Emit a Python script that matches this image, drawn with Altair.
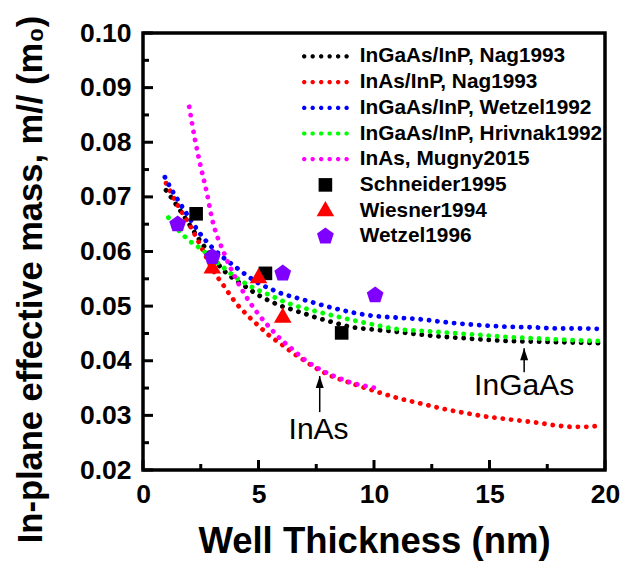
import altair as alt
import pandas as pd
import math

# ---------------- data ----------------
series_names = [
    "InGaAs/InP, Nag1993",
    "InAs/InP, Nag1993",
    "InGaAs/InP, Wetzel1992",
    "InGaAs/InP, Hrivnak1992",
    "InAs, Mugny2015",
    "Schneider1995",
    "Wiesner1994",
    "Wetzel1996",
]
series_colors = ["#000000", "#ff0000", "#0000ff", "#00ff00", "#ff00ff",
                 "#000000", "#ff0000", "#8000ff"]

x_black = [1.0, 1.5, 2.0, 2.5, 3.0, 3.5, 4.0, 4.5, 5.0, 5.5, 6.0, 6.5, 7.0, 7.5,
           8.0, 9.0, 10.0, 11.0, 12.0, 13.0, 14.0, 15.0, 16.0, 17.0, 18.0, 19.0, 20.0]
y_black = [0.0712, 0.0682, 0.0650, 0.0618, 0.0590, 0.0565, 0.0548, 0.0534, 0.0520,
           0.0509, 0.0500, 0.0493, 0.0486, 0.0479, 0.0473, 0.0462, 0.0457, 0.0453,
           0.0448, 0.0444, 0.0441, 0.0438, 0.0436, 0.0435, 0.0434, 0.0433, 0.0432]

x_red = [1.0, 1.5, 2.0, 2.5, 3.0, 3.5, 4.0, 4.5, 5.0, 5.5, 6.0, 6.5, 7.0, 7.5, 8.0,
         9.0, 10.0, 11.0, 12.0, 13.0, 14.0, 15.0, 16.0, 17.0, 18.0, 18.6, 19.2, 19.7]
y_red = [0.0725, 0.0685, 0.0650, 0.0610, 0.0568, 0.0537, 0.0507, 0.0484, 0.0464,
         0.0445, 0.0430, 0.0414, 0.0400, 0.0386, 0.0375, 0.0359, 0.0345, 0.0332,
         0.0322, 0.0312, 0.0304, 0.0297, 0.0292, 0.0287, 0.0281, 0.0279, 0.0279, 0.0281]

x_blue = [0.95, 1.2, 1.5, 2.0, 2.5, 3.0, 3.5, 4.0, 4.5, 5.0, 5.5, 6.0, 6.5, 7.0, 8.0,
          9.0, 10.0, 11.0, 12.0, 13.0, 14.0, 15.0, 16.0, 17.0, 18.0, 19.0, 20.0]
y_blue = [0.0736, 0.0716, 0.0695, 0.0662, 0.0631, 0.0607, 0.0588, 0.0572, 0.0556,
          0.0542, 0.0532, 0.0523, 0.0517, 0.0511, 0.0499, 0.0489, 0.0482, 0.0479,
          0.0476, 0.0471, 0.0467, 0.0464, 0.0462, 0.0461, 0.0459, 0.0459, 0.0458]

x_green = [1.1, 1.5, 2.0, 2.5, 3.0, 3.5, 4.0, 4.5, 5.0, 5.5, 6.0, 6.5, 7.0, 8.0, 9.0,
           10.0, 11.0, 12.0, 13.0, 14.0, 15.0, 16.0, 17.0, 18.0, 19.0, 20.0]
y_green = [0.0662, 0.0641, 0.0620, 0.0605, 0.0587, 0.0570, 0.0553, 0.0540, 0.0529,
           0.0520, 0.0510, 0.0502, 0.0496, 0.0485, 0.0475, 0.0466, 0.0458, 0.0455,
           0.0452, 0.0449, 0.0446, 0.0443, 0.0441, 0.0439, 0.0437, 0.0436]

x_magenta = [2.0, 2.25, 2.5, 2.75, 3.0, 3.5, 4.0, 4.5, 5.0, 5.5, 6.0, 6.5, 7.0, 7.5,
             8.0, 8.5, 9.0, 9.5, 10.1]
y_magenta = [0.0865, 0.0805, 0.0755, 0.0710, 0.0658, 0.0598, 0.0552, 0.0515, 0.0485,
             0.0460, 0.0438, 0.0420, 0.0402, 0.0388, 0.0377, 0.0368, 0.0360, 0.0355, 0.0350]

x_schneider = [2.3, 5.3, 8.6]
y_schneider = [0.0669, 0.0560, 0.0451]
x_wiesner = [3.0, 5.0, 6.05]
y_wiesner = [0.0570, 0.0552, 0.0480]
x_wetzel96 = [1.5, 3.0, 6.05, 10.05]
y_wetzel96 = [0.0650, 0.0590, 0.0560, 0.0520]

ann_text = ["InGaAs", "InAs"]
ann_text_x = [16.5, 7.6]
ann_text_y = [0.0337, 0.0257]
ann_arrow_x = [16.5, 7.65]
ann_arrow_tip = [0.0423, 0.0372]
ann_arrow_base = [0.0379, 0.0306]

y_major = [0.02, 0.03, 0.04, 0.05, 0.06, 0.07, 0.08, 0.09, 0.10]
y_minor = [0.025, 0.035, 0.045, 0.055, 0.065, 0.075, 0.085, 0.095]
x_major = [0, 5, 10, 15, 20]
x_minor = [2.5, 7.5, 12.5, 17.5]

# ---------------- shapes (unit = 2 px at size 16) ----------------
def octagon(cx, cy, r):
    pts = []
    for k in range(8):
        a = math.pi / 8 + k * math.pi / 4
        pts.append((cx + r * math.cos(a), cy + r * math.sin(a)))
    return "M" + "L".join(f"{px:.3f},{py:.3f}" for px, py in pts) + "Z"

dotted_path = "".join(octagon(c, 0, 1.15) for c in [-10.6, -6.36, -2.12, 2.12, 6.36, 10.6])
square_path = "M-3.4,-3.4L3.4,-3.4L3.4,3.4L-3.4,3.4Z"
triangle_path = "M0,-4.8L4.4,2.8L-4.4,2.8Z"
pent = [(4.4 * math.cos(math.radians(-90 + 72 * k)), 4.4 * math.sin(math.radians(-90 + 72 * k))) for k in range(5)]
pentagon_path = "M" + "L".join(f"{a:.3f},{b:.3f}" for a, b in pent) + "Z"
arrowhead_path = "M0,0L2,6L-2,6Z"

series_shapes = [dotted_path] * 5 + [square_path, triangle_path, pentagon_path]

# ---------------- tables ----------------
curve_x = [x_black, x_red, x_blue, x_green, x_magenta]
curve_y = [y_black, y_red, y_blue, y_green, y_magenta]

points = pd.concat([
    pd.DataFrame({"x": x_schneider, "y": y_schneider, "series": series_names[5]}),
    pd.DataFrame({"x": x_wiesner, "y": y_wiesner, "series": series_names[6]}),
    pd.DataFrame({"x": x_wetzel96, "y": y_wetzel96, "series": series_names[7]}),
], ignore_index=True)

ann = pd.DataFrame({"text": ann_text, "tx": ann_text_x, "ty": ann_text_y,
                    "ax": ann_arrow_x, "tip": ann_arrow_tip, "base": ann_arrow_base})

W, H = 462, 437
FONT = "Liberation Sans"

xscale = alt.Scale(domain=[0, 20], nice=False, zero=False)
yscale = alt.Scale(domain=[0.02, 0.10], nice=False, zero=False)

x_axis = alt.Axis(values=x_major, format="d", labelPadding=11, labelFlush=False,
                  labelOverlap=False, title="Well Thickness (nm)",
                  titleX=W / 2, titleY=82, titleBaseline="alphabetic", titleAlign="center",
                  titleFontSize=36.5)
y_axis = alt.Axis(values=y_major, format=".2f", labelPadding=12, labelFlush=False,
                  labelOverlap=False, title="In-plane effective mass, m// (m\u2080)",
                  titleX=-102, titleY=246, titleAngle=270, titleBaseline="alphabetic",
                  titleAlign="center", titleFontSize=34.5)

line_layers = []
for i in range(5):
    df = pd.DataFrame({"x": curve_x[i], "y": curve_y[i]})
    enc_x = alt.X("x:Q", scale=xscale, axis=x_axis) if i == 0 else alt.X("x:Q", scale=xscale)
    enc_y = alt.Y("y:Q", scale=yscale, axis=y_axis) if i == 0 else alt.Y("y:Q", scale=yscale)
    line_layers.append(
        alt.Chart(df).mark_line(
            color=series_colors[i], strokeDash=[0.1, 8.3], strokeCap="round",
            strokeWidth=4.8, interpolate="monotone"
        ).encode(x=enc_x, y=enc_y)
    )

legend = alt.Legend(title=None, orient="none", legendX=172, legendY=13,
                    labelFont=FONT, labelFontWeight="bold", labelFontSize=20.8,
                    labelColor="black", labelOffset=24, labelLimit=500, rowPadding=3.7,
                    symbolSize=16, symbolStrokeWidth=0, symbolOpacity=1)

markers = alt.Chart(points).mark_point(filled=True, opacity=1, size=16, strokeWidth=0).encode(
    x=alt.X("x:Q", scale=xscale),
    y=alt.Y("y:Q", scale=yscale),
    color=alt.Color("series:N", scale=alt.Scale(domain=series_names, range=series_colors),
                    legend=legend, sort=series_names),
    shape=alt.Shape("series:N", scale=alt.Scale(domain=series_names, range=series_shapes),
                    legend=legend, sort=series_names),
)

ytick_major = alt.Chart(pd.DataFrame({"v": y_major})).mark_rule(color="black", strokeWidth=3).encode(
    y=alt.Y("v:Q", scale=yscale), x=alt.value(0), x2=alt.value(10))
ytick_minor = alt.Chart(pd.DataFrame({"v": y_minor})).mark_rule(color="black", strokeWidth=3).encode(
    y=alt.Y("v:Q", scale=yscale), x=alt.value(0), x2=alt.value(6))
xtick_major = alt.Chart(pd.DataFrame({"v": x_major})).mark_rule(color="black", strokeWidth=3).encode(
    x=alt.X("v:Q", scale=xscale), y=alt.value(H), y2=alt.value(H - 10))
xtick_minor = alt.Chart(pd.DataFrame({"v": x_minor})).mark_rule(color="black", strokeWidth=3).encode(
    x=alt.X("v:Q", scale=xscale), y=alt.value(H), y2=alt.value(H - 6))

arrows = alt.Chart(ann).mark_rule(color="black", strokeWidth=1.5).encode(
    x=alt.X("ax:Q", scale=xscale), y=alt.Y("base:Q", scale=yscale), y2="tip:Q")
heads = alt.Chart(ann).mark_point(shape=arrowhead_path, filled=True, color="black",
                                  opacity=1, size=16, strokeWidth=0).encode(
    x=alt.X("ax:Q", scale=xscale), y=alt.Y("tip:Q", scale=yscale))
labels = alt.Chart(ann).mark_text(font=FONT, fontSize=30, color="black",
                                  baseline="alphabetic", align="center").encode(
    x=alt.X("tx:Q", scale=xscale), y=alt.Y("ty:Q", scale=yscale), text="text:N")

chart = alt.layer(
    *line_layers, ytick_major, ytick_minor, xtick_major, xtick_minor,
    arrows, heads, labels, markers
).properties(
    width=W, height=H,
    autosize=alt.AutoSizeParams(type="none"),
    padding={"left": 143, "top": 33, "right": 16, "bottom": 91},
).configure_view(
    stroke="black", strokeWidth=3.5
).configure_axis(
    domain=False, ticks=False, grid=False,
    labelFont=FONT, labelFontWeight="bold", labelFontSize=26.5, labelColor="black",
    titleFont=FONT, titleFontWeight="bold", titleColor="black",
)

chart.save("out.html", embed_options={"renderer": "svg", "actions": False})
